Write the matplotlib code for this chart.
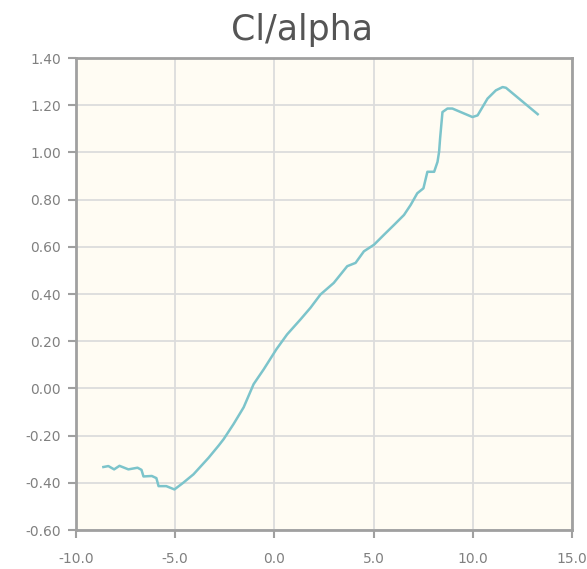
import numpy as np
import matplotlib.pyplot as plt

# Cl vs alpha
alpha = [-8.62, -8.37, -8.08, -7.81, -7.36, -6.90, -6.70, -6.60, -6.18, -5.95,
         -5.84, -5.45, -5.04, -4.60, -4.08, -3.32, -2.81, -2.56, -2.06, -1.55,
         -1.05, -0.54, 0.10, 0.64, 1.31, 1.82, 2.32, 2.99, 3.67, 4.09,
         4.51, 5.02, 5.52, 6.03, 6.53, 6.87, 7.20, 7.51, 7.71, 8.05,
         8.22, 8.30, 8.35, 8.47, 8.72, 8.97, 9.39, 9.98, 10.24, 10.74,
         11.16, 11.50, 11.67, 13.27]
cl = [-0.333, -0.329, -0.343, -0.328, -0.343, -0.336, -0.345, -0.373, -0.371, -0.380,
      -0.414, -0.414, -0.428, -0.400, -0.364, -0.294, -0.242, -0.215, -0.151, -0.080,
      0.018, 0.081, 0.166, 0.229, 0.292, 0.342, 0.398, 0.447, 0.518, 0.532,
      0.581, 0.609, 0.651, 0.693, 0.735, 0.778, 0.827, 0.848, 0.918, 0.918,
      0.960, 1.003, 1.059, 1.171, 1.186, 1.186, 1.171, 1.150, 1.157, 1.228,
      1.263, 1.277, 1.274, 1.162]

x_ticks = [-10, -5, 0, 5, 10, 15]
y_ticks = [-0.6, -0.4, -0.2, 0.0, 0.2, 0.4, 0.6, 0.8, 1.0, 1.2, 1.4]

fig = plt.figure(figsize=(5.87, 5.69), dpi=100)
ax = fig.add_axes([0.1295, 0.0685, 0.845, 0.8295])
ax.set_facecolor('#fffcf3')

ax.plot(alpha, cl, color='#7cc4cb', linewidth=1.8, solid_joinstyle='round')

ax.set_xlim(-10, 15)
ax.set_ylim(-0.6, 1.4)
ax.set_xticks(x_ticks)
ax.set_yticks(y_ticks)
ax.set_xticklabels(['%.1f' % v for v in x_ticks])
ax.set_yticklabels(['%.2f' % v for v in y_ticks])
ax.grid(True, color='#dcdcdc', linewidth=1.3)
ax.set_axisbelow(True)

for sp in ax.spines.values():
    sp.set_color('#a0a0a0')
    sp.set_linewidth(2)

ax.tick_params(direction='out', length=6, width=1.5, color='#a0a0a0',
               labelcolor='#808080', labelsize=10)
ax.tick_params(axis='x', pad=10)
ax.tick_params(axis='y', pad=5)

fig.text(0.514, 0.947, 'Cl/alpha', ha='center', va='center',
         fontsize=25, color='#555555')

fig.savefig('out.png', dpi=100)
